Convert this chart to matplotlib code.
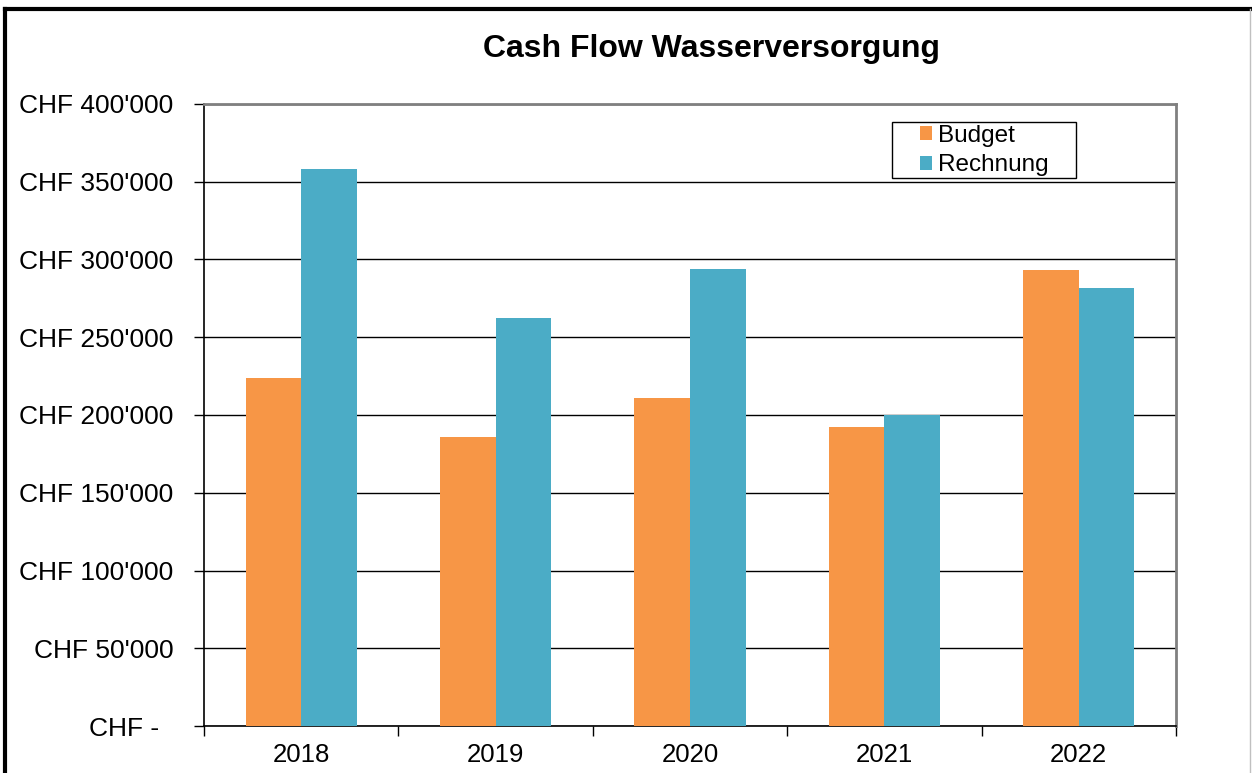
import matplotlib.pyplot as plt
import numpy as np
from matplotlib.lines import Line2D
from matplotlib.patches import Rectangle

# Daten
jahre = ['2018', '2019', '2020', '2021', '2022']
budget = [224000, 186000, 211000, 192000, 293000]
rechnung = [358000, 262500, 294000, 200000, 281500]
y_ticks = [0, 50000, 100000, 150000, 200000, 250000, 300000, 350000, 400000]
y_labels = ['CHF -  ', "CHF 50'000", "CHF 100'000", "CHF 150'000", "CHF 200'000",
            "CHF 250'000", "CHF 300'000", "CHF 350'000", "CHF 400'000"]

plt.rcParams['font.family'] = ['Liberation Sans', 'DejaVu Sans']

W, H = 1252, 773
fig = plt.figure(figsize=(W / 100, H / 100), dpi=100)
ax = fig.add_axes([204 / W, 1 - 726 / H, 972 / W, 622 / H])

x = np.arange(len(jahre))
breite = 0.286
ax.bar(x - breite / 2, budget, breite, color='#F79646', label='Budget', zorder=3)
ax.bar(x + breite / 2, rechnung, breite, color='#4BACC6', label='Rechnung', zorder=3)

ax.set_xlim(-0.5, len(jahre) - 0.5)
ax.set_ylim(0, 400000)
ax.set_yticks(y_ticks)
ax.set_yticklabels(y_labels, fontsize=19)
ax.yaxis.grid(True, color='black', linewidth=1, zorder=0)

# Kategorien: Labels mittig, Striche an den Grenzen
ax.set_xticks(x)
ax.set_xticklabels(jahre, fontsize=18.5)
ax.tick_params(axis='x', length=0, pad=12)
ax.set_xticks(np.arange(-0.5, len(jahre)), minor=True)
ax.tick_params(axis='x', which='minor', length=7, width=1, direction='out')
ax.tick_params(axis='y', length=7, width=1, direction='out', pad=15)

for s in ['top', 'right']:
    ax.spines[s].set_color('#808080')
    ax.spines[s].set_linewidth(2)
ax.spines['left'].set_linewidth(1.2)
ax.spines['bottom'].set_linewidth(1.2)

# Legende mit eigenem Rahmen
leg = fig.legend(*ax.get_legend_handles_labels(), loc='upper left',
                 bbox_to_anchor=(920 / W, 1 - 125 / H), fontsize=17.5,
                 frameon=False, handlelength=0.5, handleheight=0.5,
                 handletextpad=0.25, labelspacing=0.3, borderpad=0,
                 borderaxespad=0)
fig.add_artist(Rectangle((892 / W, 1 - 178 / H), 184 / W, 56 / H, fill=False,
                         edgecolor='black', linewidth=1, transform=fig.transFigure))

fig.text(712 / W, 1 - 49 / H, 'Cash Flow Wasserversorgung', fontsize=23,
         fontweight='bold', ha='center', va='center')

# Rahmen um die Grafik
fig.add_artist(Line2D([5 / W, 5 / W], [0, 1 - 9 / H], color='black',
                      linewidth=3, transform=fig.transFigure))
fig.add_artist(Line2D([5 / W, 1250 / W], [1 - 9 / H, 1 - 9 / H], color='black',
                      linewidth=3, transform=fig.transFigure))
fig.add_artist(Line2D([1250 / W, 1250 / W], [0, 1 - 9 / H], color='#C0C0C0',
                      linewidth=1, transform=fig.transFigure))

fig.savefig('out.png', dpi=100)
